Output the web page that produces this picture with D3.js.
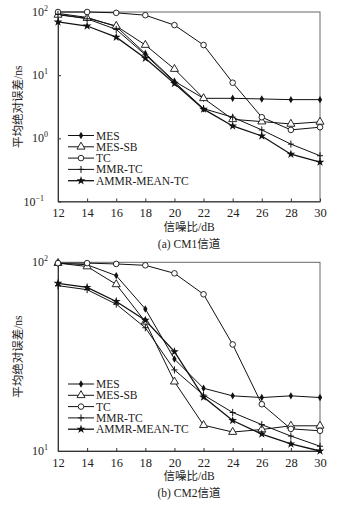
<!DOCTYPE html>
<html>
<head>
<meta charset="utf-8">
<script src="https://d3js.org/d3.v7.min.js"></script>
<style>
  body { margin: 0; background: #fff; }
  text { font-family: "Liberation Serif", "Noto Sans CJK SC", serif; fill: #222; }
  .cjk { font-family: "Liberation Serif", "Noto Sans CJK SC", serif; }
</style>
</head>
<body>
<div id="viz"></div>
<script>
// SNR values (dB)
const snr = [12, 14, 16, 18, 20, 22, 24, 26, 28, 30];
const xTicks = [12, 14, 16, 18, 20, 22, 24, 26, 28, 30];
const seriesNames = ["MES", "MES-SB", "TC", "MMR-TC", "AMMR-MEAN-TC"];

// (a) CM1 channel, mean absolute error / ns
const cm1MES  = [95, 82, 59, 22, 8.0, 4.3, 4.3, 4.2, 4.1, 4.1];
const cm1MESSB = [90, 80, 60, 30, 12.5, 4.3, 2.0, 1.84, 1.69, 1.82];
const cm1TC   = [100, 100, 97, 89, 62, 30, 7.6, 2.16, 1.36, 1.5];
const cm1MMR  = [92, 78, 53, 21, 7.8, 2.95, 2.16, 1.36, 0.81, 0.53];
const cm1AMMR = [69.5, 60, 40, 18.5, 7.4, 2.9, 1.57, 1.09, 0.56, 0.42];

// (b) CM2 channel
const cm2MES  = [99, 97, 85, 56.6, 30.7, 21.5, 19.6, 19.2, 19.6, 19.2];
const cm2MESSB = [99, 95, 76.4, 48.4, 23.3, 13.7, 12.6, 13.0, 13.6, 13.6];
const cm2TC   = [99, 99, 98, 96.4, 87.4, 67.7, 36.7, 17.7, 13.1, 12.8];
const cm2MMR  = [75.2, 71.6, 60, 45, 26.9, 19.8, 16.0, 13.8, 12.0, 10.6];
const cm2AMMR = [77.4, 73.7, 62, 49.3, 33.6, 19.3, 14.5, 12.3, 10.9, 10.0];

const cm1Exps = [2, 1, 0, -1];
const cm2Exps = [2, 1];

const svg = d3.select("#viz").append("svg")
    .attr("width", 353).attr("height", 505);

// marker drawing
function marker(g, name, x, y) {
  if (name === "MES") {
    g.append("path").attr("d", d3.symbol(d3.symbolDiamond, 16)())
      .attr("transform", `translate(${x},${y})`).attr("fill", "#111");
  } else if (name === "MES-SB") {
    g.append("path").attr("d", d3.symbol(d3.symbolTriangle, 28)())
      .attr("transform", `translate(${x},${y})`).attr("fill", "#fff")
      .attr("stroke", "#111").attr("stroke-width", 0.9);
  } else if (name === "TC") {
    g.append("circle").attr("cx", x).attr("cy", y).attr("r", 2.8)
      .attr("fill", "#fff").attr("stroke", "#111").attr("stroke-width", 0.9);
  } else if (name === "MMR-TC") {
    g.append("path").attr("d", `M${x-3},${y}H${x+3}M${x},${y-3.5}V${y+3.5}`)
      .attr("stroke", "#111").attr("stroke-width", 1);
  } else {
    g.append("path").attr("d", d3.symbol(d3.symbolStar, 24)())
      .attr("transform", `translate(${x},${y})`).attr("fill", "#111");
  }
}

function drawChart(opt) {
  const g = svg.append("g");
  const x = d3.scaleLinear().domain([12, 30]).range([58, 320]);
  const y = d3.scaleLog().domain(opt.domain).range([opt.bottom, opt.top]);

  // frame
  g.append("rect").attr("x", 58).attr("y", opt.top)
    .attr("width", 262).attr("height", opt.bottom - opt.top)
    .attr("fill", "none").attr("stroke", "#666").attr("stroke-width", 1);

  // x axis
  const xa = g.append("g").attr("transform", `translate(0,${opt.bottom})`)
    .call(d3.axisBottom(x).tickValues(xTicks).tickSizeInner(-3).tickSizeOuter(0).tickPadding(7));
  xa.select(".domain").attr("stroke", "#333");
  xa.selectAll(".tick line").attr("stroke", "#333");
  xa.selectAll("text").attr("font-size", 12.5).attr("font-family", "Liberation Serif").attr("fill", "#222");

  // y axis with superscript labels
  const ya = g.append("g").attr("transform", "translate(58,0)")
    .call(d3.axisLeft(y).tickValues(opt.exps.map(e => Math.pow(10, e)))
      .tickSizeInner(-3).tickSizeOuter(0).tickFormat(""));
  ya.select(".domain").attr("stroke", "#333");
  ya.selectAll(".tick line").attr("stroke", "#333");
  opt.exps.forEach(e => {
    const t = g.append("text").attr("x", e < 0 ? 44 : 48).attr("y", y(Math.pow(10, e)) + 4)
      .attr("text-anchor", "end").attr("font-size", 12);
    t.append("tspan").text("10");
    t.append("tspan").attr("dy", -5).attr("font-size", 8).text(e < 0 ? "\u2212" + (-e) : e);
  });

  // series
  const line = d3.line().x((d, i) => x(snr[i])).y(d => y(d));
  opt.series.forEach((s, k) => {
    g.append("path").datum(s.values).attr("d", line)
      .attr("fill", "none").attr("stroke", "#111")
      .attr("stroke-width", s.name === "AMMR-MEAN-TC" ? 1.3 : 1);
  });
  opt.series.forEach(s => {
    s.values.forEach((v, i) => marker(g, s.name, x(snr[i]), y(v)));
  });

  // legend
  seriesNames.forEach((n, i) => {
    const ly = opt.legendY + i * 11.3;
    g.append("line").attr("x1", 68).attr("x2", 94).attr("y1", ly).attr("y2", ly)
      .attr("stroke", "#111").attr("stroke-width", n === "AMMR-MEAN-TC" ? 1.3 : 1);
    marker(g, n, 81, ly);
    g.append("text").attr("x", 96).attr("y", ly + 4).attr("font-size", 11.5).text(n);
  });

  // axis titles
  g.append("text").attr("class", "cjk").attr("x", 189).attr("y", opt.bottom + 29)
    .attr("text-anchor", "middle").attr("font-size", 11.5).text("信噪比/dB");
  g.append("text").attr("class", "cjk").attr("x", 189).attr("y", opt.bottom + 46)
    .attr("text-anchor", "middle").attr("font-size", 11.5).text(opt.caption);
  g.append("text").attr("class", "cjk")
    .attr("transform", `translate(22,${(opt.top + opt.bottom) / 2}) rotate(-90)`)
    .attr("text-anchor", "middle").attr("font-size", 11.5).text("平均绝对误差/ns");
}

drawChart({
  top: 12, bottom: 201.5, domain: [0.1, 100], exps: cm1Exps,
  legendY: 135.5, caption: "(a) CM1信道",
  series: [
    { name: "MES", values: cm1MES },
    { name: "MES-SB", values: cm1MESSB },
    { name: "TC", values: cm1TC },
    { name: "MMR-TC", values: cm1MMR },
    { name: "AMMR-MEAN-TC", values: cm1AMMR }
  ]
});

drawChart({
  top: 262.3, bottom: 451, domain: [10, 100], exps: cm2Exps,
  legendY: 384, caption: "(b) CM2信道",
  series: [
    { name: "MES", values: cm2MES },
    { name: "MES-SB", values: cm2MESSB },
    { name: "TC", values: cm2TC },
    { name: "MMR-TC", values: cm2MMR },
    { name: "AMMR-MEAN-TC", values: cm2AMMR }
  ]
});
</script>
</body>
</html>
